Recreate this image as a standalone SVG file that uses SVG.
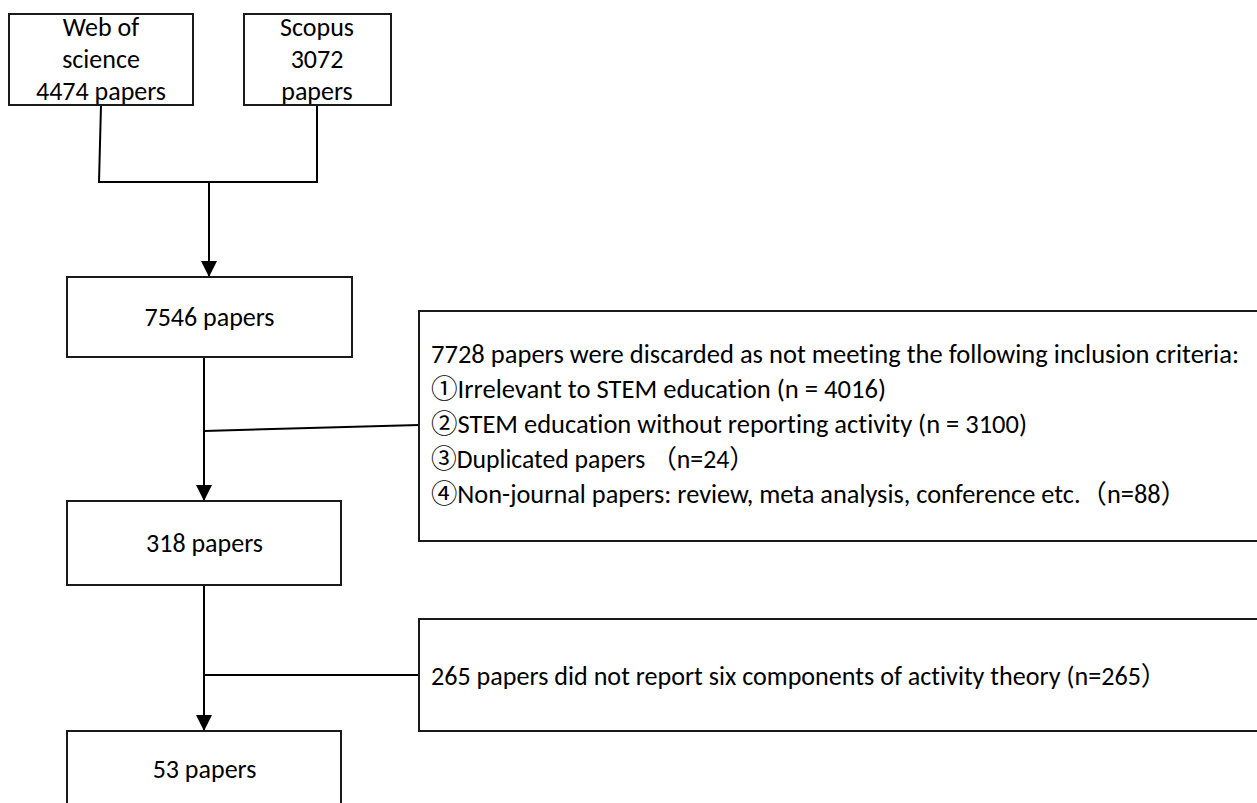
<svg xmlns="http://www.w3.org/2000/svg" width="1257" height="803" viewBox="0 0 1257 803">
<defs>
<style>
.box{fill:#fff;stroke:#1a1a1a;stroke-width:2}
.ln{fill:none;stroke:#000;stroke-width:2}
text{font-family:Carlito,"Open Sans","Noto Sans CJK SC",sans-serif;font-size:26px;fill:#000;font-variant-ligatures:none}
.c{text-anchor:middle}
.cjk{font-family:"Noto Sans CJK SC","Noto Sans CJK JP",sans-serif}
</style>
<marker id="ah" markerUnits="userSpaceOnUse" markerWidth="16" markerHeight="16" refX="16" refY="8" orient="auto" viewBox="0 0 16 16">
<path d="M0,0 L16,8 L0,16 z" fill="#000"/>
</marker>
</defs>
<rect width="1257" height="803" fill="#fff"/>
<g id="connectors">
<path class="ln" d="M101,105 L99,182 L317,182 L317,105"/>
<path class="ln" d="M209,182 L209,277" marker-end="url(#ah)"/>
<path class="ln" d="M204,357 L204,501" marker-end="url(#ah)"/>
<path class="ln" d="M204,431 L419,425"/>
<path class="ln" d="M204,585 L204,731" marker-end="url(#ah)"/>
<path class="ln" d="M204,675 L419,675"/>
</g>
<g id="wos">
<rect class="box" x="9" y="14" width="184" height="91"/>
<text class="c" x="101" y="36">Web of</text>
<text class="c" x="101" y="68">science</text>
<text class="c" x="101" y="100">4474 papers</text>
</g>
<g id="scopus">
<rect class="box" x="244" y="14" width="147" height="91"/>
<text class="c" x="317" y="36">Scopus</text>
<text class="c" x="317" y="68">3072</text>
<text class="c" x="317" y="100">papers</text>
</g>
<g id="n7546">
<rect class="box" x="67" y="277" width="285" height="80"/>
<text class="c" x="209.5" y="326">7546 papers</text>
</g>
<g id="excl1">
<rect class="box" x="419" y="311" width="860" height="230"/>
<text x="431" y="363" textLength="808" lengthAdjust="spacingAndGlyphs">7728 papers were discarded as not meeting the following inclusion criteria:</text>
<text x="431" y="398" textLength="455" lengthAdjust="spacingAndGlyphs"><tspan class="cjk">①</tspan>Irrelevant to STEM education (n = 4016)</text>
<text x="431" y="433" textLength="596" lengthAdjust="spacingAndGlyphs"><tspan class="cjk">②</tspan>STEM education without reporting activity (n = 3100)</text>
<text x="431" y="468" textLength="324" lengthAdjust="spacingAndGlyphs"><tspan class="cjk">③</tspan>Duplicated papers <tspan class="cjk">（</tspan>n=24<tspan class="cjk">）</tspan></text>
<text x="431" y="503" textLength="756" lengthAdjust="spacingAndGlyphs"><tspan class="cjk">④</tspan>Non-journal papers: review, meta analysis, conference etc.<tspan class="cjk">（</tspan>n=88<tspan class="cjk">）</tspan></text>
</g>
<g id="n318">
<rect class="box" x="67" y="501" width="274" height="84"/>
<text class="c" x="204.5" y="552">318 papers</text>
</g>
<g id="excl2">
<rect class="box" x="419" y="619" width="860" height="112"/>
<text x="431" y="685" textLength="736" lengthAdjust="spacingAndGlyphs">265 papers did not report six components of activity theory (n=265<tspan class="cjk">）</tspan></text>
</g>
<g id="n53">
<rect class="box" x="67" y="731" width="274" height="100"/>
<text class="c" x="204.5" y="778">53 papers</text>
</g>
</svg>
